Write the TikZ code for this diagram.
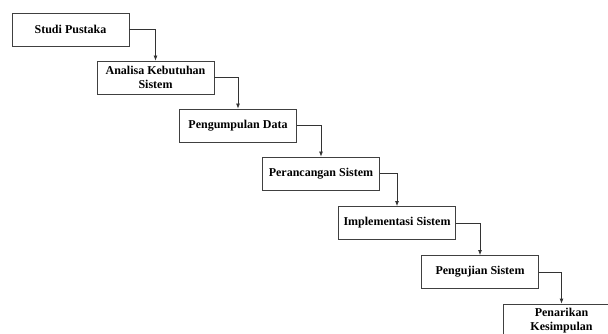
\documentclass[tikz,border=0pt]{standalone}
\usepackage{fontspec}
\setmainfont{Liberation Serif}
\usetikzlibrary{arrows.meta}
\tikzset{
  stepbox/.style={draw=black!75, line width=0.8pt, fill=white, minimum width=117pt, minimum height=33pt,
    inner sep=1pt, align=center, font=\fontsize{12}{14}\selectfont\bfseries},
  flow/.style={draw=black!80, line width=0.8pt, -{Latex[length=5pt,width=4pt]}}
}
\begin{document}
\begin{tikzpicture}[x=1pt,y=-1pt]
\useasboundingbox (0,0) rectangle (608,334);
\clip (0,0) rectangle (608,334);
\node[stepbox] (b1) at (70.5,29.5) {Studi Pustaka};
\node[stepbox] (b2) at (155.5,77.5) {Analisa Kebutuhan\\Sistem};
\node[stepbox] (b3) at (238,125.5) {Pengumpulan Data};
\node[stepbox] (b4) at (321,173.5) {Perancangan Sistem};
\node[stepbox] (b5) at (397,223) {Implementasi Sistem};
\node[stepbox] (b6) at (480,272) {Pengujian Sistem};
\node[stepbox] (b7) at (561.5,320.5) {Penarikan\\Kesimpulan};
\draw[flow] (b1.east) -| (b2.north);
\draw[flow] (b2.east) -| (b3.north);
\draw[flow] (b3.east) -| (b4.north);
\draw[flow] (b4.east) -| (b5.north);
\draw[flow] (b5.east) -| (b6.north);
\draw[flow] (b6.east) -| (b7.north);
\end{tikzpicture}
\end{document}
